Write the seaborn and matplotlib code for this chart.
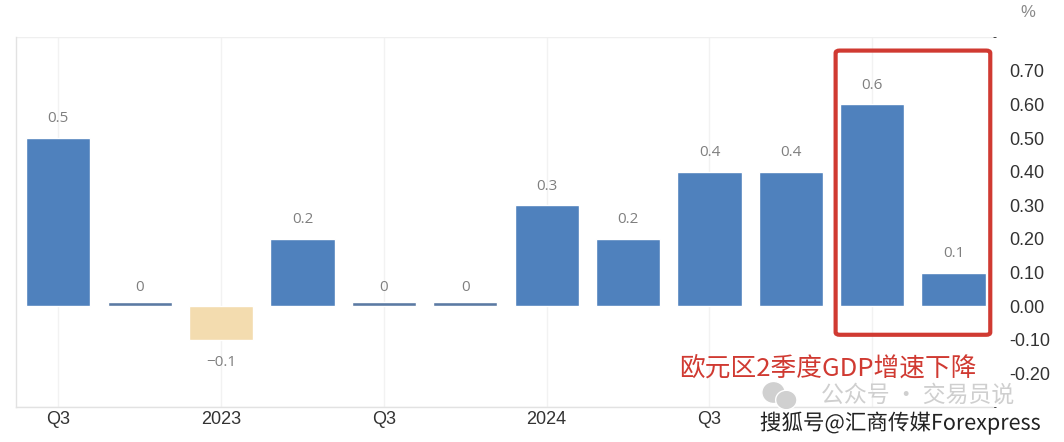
import matplotlib

matplotlib.use("Agg")
import matplotlib.pyplot as plt  # noqa: E402
import numpy as np  # noqa: E402
import seaborn as sns  # noqa: E402
from matplotlib.patches import FancyBboxPatch, Ellipse  # noqa: E402
import matplotlib.patheffects as pe  # noqa: E402

# Euro area GDP q/q growth, %
quarters = ["2022Q3", "2022Q4", "2023Q1", "2023Q2", "2023Q3", "2023Q4",
            "2024Q1", "2024Q2", "2024Q3", "2024Q4", "2025Q1", "2025Q2"]
growth = [0.5, 0.0, -0.1, 0.2, 0.0, 0.0, 0.3, 0.2, 0.4, 0.4, 0.6, 0.1]
tick_labels = ["Q3", "", "2023", "", "Q3", "", "2024", "", "Q3", "", "", ""]
y_ticks = [0.7, 0.6, 0.5, 0.4, 0.3, 0.2, 0.1, 0.0, -0.1, -0.2]

BLUE = "#4F81BD"
ZERO = "#5B7AA3"
NEG = "#F3DCAF"
RED = "#D03A32"
CJK = ["Noto Sans CJK SC", "DejaVu Sans"]

sns.set_style("white")
plt.rcParams["font.family"] = ["Liberation Sans", "Noto Sans CJK SC", "DejaVu Sans"]

vals = np.array(growth)
shown = np.where(vals == 0, 0.012, vals)  # zero quarters drawn as a hairline bar
colors = [ZERO if v == 0 else (NEG if v < 0 else BLUE) for v in vals]

fig = plt.figure(figsize=(10.64, 4.42), dpi=100)
ax = fig.add_axes([0.015, 0.079, 0.918, 0.837])

sns.barplot(x=quarters, y=shown, hue=quarters, palette=colors, legend=False,
            width=0.79, saturation=1, ax=ax, zorder=3)

for i, v in enumerate(vals):
    off = -0.066 if v < 0 else 0.057
    ax.text(i, v + off, f"{v:g}".replace("-", "−"), ha="center", va="center",
            fontsize=11, color="#7F7F7F", family=["Open Sans", "DejaVu Sans"])

ax.set_xlim(-0.52, 11.48)
ax.set_ylim(-0.3, 0.8)
ax.set_xticks(range(len(quarters)))
ax.set_xticklabels(tick_labels, fontsize=13, color="#333333")
ax.tick_params(axis="x", length=0, pad=3)
ax.yaxis.tick_right()
ax.set_yticks(y_ticks)
ax.set_yticklabels([f"{t:.2f}" for t in y_ticks], fontsize=13, color="#333333")
ax.tick_params(axis="y", length=0, pad=12)
ax.set_xlabel("")
ax.set_ylabel("")

ax.set_yticks(np.round(np.arange(-0.3, 0.81, 0.1), 2), minor=True)
ax.grid(True, which="minor", axis="y", color="#EFEFEF", linewidth=1, zorder=0)
for i, lab in enumerate(tick_labels):
    if lab or i == 10:
        ax.axvline(i, color="#F2F2F2", linewidth=1, zorder=0)

for side in ("top", "right"):
    ax.spines[side].set_visible(False)
for side in ("left", "bottom"):
    ax.spines[side].set_color("#E2E2E2")
    ax.spines[side].set_linewidth(1)

fig.text(0.966, 0.972, "%", fontsize=12, color="#888888", ha="center", va="center")

# highlight box around 2025 quarters
box = FancyBboxPatch((9.55, -0.085), 1.9, 0.845, boxstyle="round,pad=0,rounding_size=0.05",
                     fill=False, edgecolor=RED, linewidth=3, zorder=5, clip_on=False,
                     mutation_aspect=0.15)
ax.add_patch(box)
ax.text(9.45, -0.185, "欧元区2季度GDP增速下降", ha="center", va="center",
        fontsize=18.5, color=RED, family=CJK, zorder=6)

# watermarks
for cx, cy, w, h in [(0.727, 0.112, 0.022, 0.05), (0.739, 0.095, 0.02, 0.044)]:
    fig.add_artist(Ellipse((cx, cy), w, h, transform=fig.transFigure,
                           facecolor="#D0D0D0", edgecolor="white", linewidth=1, zorder=6))
fig.text(0.862, 0.106, "公众号 · 交易员说", ha="center", va="center",
         fontsize=16.5, color="#CFCFCF", family=CJK, zorder=6)
fig.text(0.846, 0.043, "搜狐号@汇商传媒Forexpress", ha="center", va="center",
         fontsize=15.5, color="#222222", family=CJK, zorder=7,
         path_effects=[pe.withStroke(linewidth=3, foreground="white")])

fig.savefig("out.png", dpi=100)
plt.close(fig)
